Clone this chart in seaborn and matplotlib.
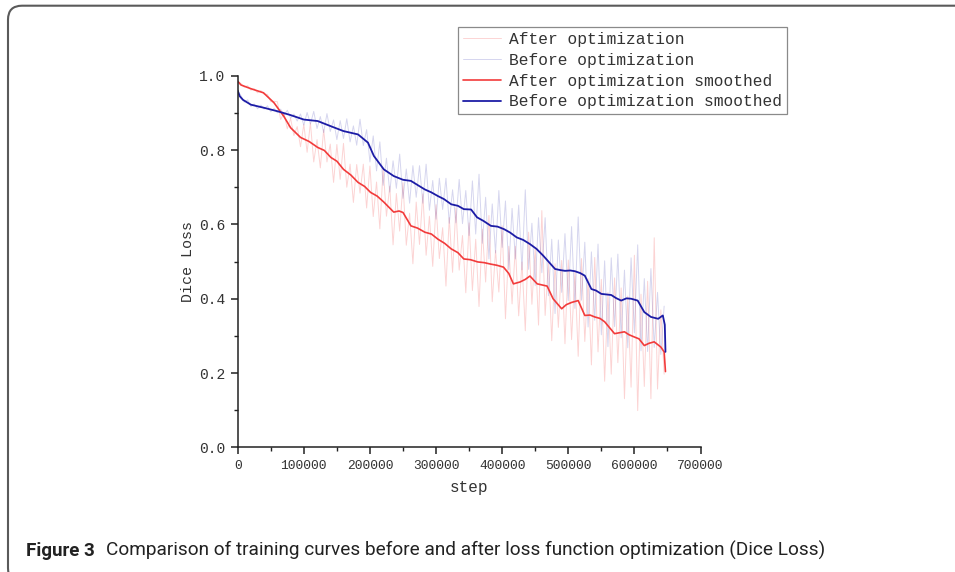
import numpy as np
import pandas as pd
import matplotlib
matplotlib.use("Agg")
import matplotlib.pyplot as plt
import seaborn as sns
from matplotlib.patches import FancyBboxPatch
from matplotlib.transforms import IdentityTransform
from matplotlib.ticker import MultipleLocator, FormatStrFormatter

# ---- training log: Dice loss per logged step ----
LOG_INTERVAL = 5000
raw_steps = np.arange(0, 650000, LOG_INTERVAL)

after_raw = [
    0.985, 0.979, 0.969, 0.973, 0.961, 0.965, 0.954, 0.960, 0.950, 0.950,
    0.930, 0.931, 0.930, 0.882, 0.900, 0.857, 0.885, 0.839, 0.863, 0.809,
    0.869, 0.794, 0.873, 0.768, 0.828, 0.752, 0.855, 0.768, 0.816, 0.713,
    0.815, 0.721, 0.818, 0.700, 0.762, 0.659, 0.761, 0.684, 0.762, 0.644,
    0.757, 0.621, 0.714, 0.588, 0.751, 0.622, 0.703, 0.545, 0.683, 0.582,
    0.712, 0.544, 0.630, 0.494, 0.660, 0.546, 0.682, 0.517, 0.622, 0.487,
    0.653, 0.508, 0.591, 0.434, 0.618, 0.471, 0.644, 0.477, 0.570, 0.416,
    0.604, 0.422, 0.560, 0.379, 0.587, 0.445, 0.624, 0.392, 0.530, 0.418,
    0.596, 0.346, 0.541, 0.386, 0.541, 0.354, 0.499, 0.314, 0.579, 0.385,
    0.536, 0.329, 0.637, 0.355, 0.498, 0.287, 0.494, 0.323, 0.503, 0.279,
    0.504, 0.290, 0.472, 0.245, 0.508, 0.285, 0.454, 0.222, 0.511, 0.257,
    0.452, 0.178, 0.417, 0.197, 0.456, 0.228, 0.429, 0.131, 0.407, 0.162,
    0.517, 0.099, 0.412, 0.164, 0.447, 0.131, 0.564, 0.157, 0.370, 0.197,
]

before_raw = [
    0.960, 0.946, 0.929, 0.935, 0.917, 0.924, 0.911, 0.921, 0.910, 0.919,
    0.903, 0.912, 0.900, 0.910, 0.893, 0.907, 0.886, 0.897, 0.878, 0.897,
    0.867, 0.901, 0.870, 0.904, 0.858, 0.890, 0.847, 0.898, 0.850, 0.881,
    0.828, 0.879, 0.831, 0.884, 0.822, 0.865, 0.813, 0.883, 0.812, 0.855,
    0.768, 0.838, 0.744, 0.822, 0.705, 0.778, 0.687, 0.771, 0.697, 0.789,
    0.670, 0.749, 0.657, 0.758, 0.673, 0.758, 0.657, 0.762, 0.638, 0.718,
    0.614, 0.724, 0.640, 0.724, 0.603, 0.693, 0.604, 0.721, 0.602, 0.691,
    0.570, 0.717, 0.574, 0.735, 0.549, 0.673, 0.507, 0.655, 0.523, 0.691,
    0.538, 0.663, 0.478, 0.643, 0.507, 0.652, 0.478, 0.693, 0.479, 0.603,
    0.435, 0.618, 0.470, 0.618, 0.408, 0.560, 0.360, 0.558, 0.417, 0.575,
    0.395, 0.594, 0.374, 0.620, 0.396, 0.552, 0.324, 0.526, 0.342, 0.547,
    0.303, 0.502, 0.271, 0.510, 0.325, 0.520, 0.295, 0.477, 0.268, 0.510,
    0.308, 0.545, 0.260, 0.454, 0.258, 0.481, 0.269, 0.417, 0.250, 0.380,
]

# smoothed curves
after_smooth_steps = [
    0, 5000, 20000, 39000, 55000, 70000, 80000, 95000, 108000, 121000,
    131000, 141000, 150000, 160000, 171000, 182000, 192000, 201000, 211000, 221000,
    236000, 244000, 250000, 262000, 272000, 283000, 293000, 303000, 313000, 323000,
    333000, 342000, 352000, 363000, 373000, 383000, 392000, 402000, 410000, 417000,
    427000, 435000, 442000, 453000, 468000, 477000, 490000, 497000, 505000, 515000,
    525000, 533000, 540000, 548000, 555000, 562000, 570000, 585000, 592000, 600000,
    607000, 615000, 622000, 630000, 640000, 645000, 647000,
]
after_smooth = [
    0.985, 0.975, 0.965, 0.954, 0.927, 0.890, 0.860, 0.834, 0.823, 0.807,
    0.799, 0.780, 0.770, 0.748, 0.733, 0.713, 0.702, 0.686, 0.676, 0.660,
    0.633, 0.636, 0.632, 0.596, 0.590, 0.579, 0.574, 0.560, 0.549, 0.534,
    0.524, 0.507, 0.505, 0.499, 0.497, 0.493, 0.490, 0.485, 0.468, 0.440,
    0.445, 0.452, 0.461, 0.440, 0.434, 0.400, 0.373, 0.384, 0.390, 0.395,
    0.355, 0.356, 0.351, 0.347, 0.338, 0.323, 0.306, 0.311, 0.303, 0.297,
    0.292, 0.274, 0.280, 0.284, 0.270, 0.257, 0.204,
]

before_smooth_steps = [
    0, 3000, 8000, 20000, 39000, 61000, 80000, 100000, 121000, 141000,
    160000, 182000, 197000, 206000, 221000, 236000, 250000, 262000, 272000, 283000,
    293000, 303000, 312000, 323000, 333000, 342000, 353000, 362000, 372000, 383000,
    393000, 403000, 412000, 422000, 432000, 442000, 452000, 462000, 475000, 480000,
    488000, 495000, 503000, 510000, 518000, 525000, 535000, 542000, 550000, 565000,
    572000, 580000, 588000, 595000, 605000, 615000, 625000, 636000, 643000, 646000,
    647000,
]
before_smooth = [
    0.960, 0.945, 0.935, 0.922, 0.914, 0.904, 0.894, 0.882, 0.878, 0.864,
    0.851, 0.842, 0.820, 0.784, 0.748, 0.730, 0.720, 0.717, 0.706, 0.694,
    0.686, 0.676, 0.668, 0.654, 0.650, 0.641, 0.640, 0.619, 0.609, 0.596,
    0.594, 0.587, 0.578, 0.565, 0.558, 0.547, 0.534, 0.516, 0.490, 0.480,
    0.477, 0.475, 0.476, 0.474, 0.469, 0.462, 0.426, 0.422, 0.413, 0.410,
    0.402, 0.395, 0.401, 0.400, 0.395, 0.364, 0.351, 0.346, 0.355, 0.330,
    0.257,
]

series_labels = [
    "After optimization",
    "Before optimization",
    "After optimization smoothed",
    "Before optimization smoothed",
]
x_ticks = [0, 100000, 200000, 300000, 400000, 500000, 600000, 700000]
y_ticks = [0.0, 0.2, 0.4, 0.6, 0.8, 1.0]
caption_bold = "Figure 3"
caption_text = ("Comparison of training curves before and after loss function "
                "optimization (Dice Loss)")

# ---- style ----
sns.set_style("ticks")
chart_font = ["Liberation Mono", "DejaVu Sans Mono"]
plt.rcParams["font.family"] = chart_font
plt.rcParams["axes.linewidth"] = 1.1

RED = "#f23b3b"
BLUE = "#1c1ca6"

W, H = 955, 572
fig = plt.figure(figsize=(W / 100, H / 100), dpi=100)
x0, x1 = 237.7, 700.5
y0, y1 = 447.4, 75.7
ax = fig.add_axes([x0 / W, 1 - y0 / H, (x1 - x0) / W, (y0 - y1) / H])

raw_df = pd.DataFrame({"step": raw_steps, "after": after_raw, "before": before_raw})
sa_df = pd.DataFrame({"step": after_smooth_steps, "loss": after_smooth})
sb_df = pd.DataFrame({"step": before_smooth_steps, "loss": before_smooth})

sns.lineplot(data=raw_df, x="step", y="after", ax=ax, color=RED, lw=0.7,
             alpha=0.22, estimator=None, sort=False, label=series_labels[0])
sns.lineplot(data=raw_df, x="step", y="before", ax=ax, color=BLUE, lw=0.7,
             alpha=0.18, estimator=None, sort=False, label=series_labels[1])
sns.lineplot(data=sa_df, x="step", y="loss", ax=ax, color=RED, lw=1.2,
             estimator=None, sort=False, label=series_labels[2])
sns.lineplot(data=sb_df, x="step", y="loss", ax=ax, color=BLUE, lw=1.3,
             estimator=None, sort=False, label=series_labels[3])

ax.set_xlim(0, 700000)
ax.set_ylim(0, 1.0)
ax.set_xticks(x_ticks)
ax.set_xticklabels([str(t) for t in x_ticks])
ax.set_yticks(y_ticks)
ax.yaxis.set_major_formatter(FormatStrFormatter("%.1f"))
ax.xaxis.set_minor_locator(MultipleLocator(50000))
ax.yaxis.set_minor_locator(MultipleLocator(0.1))
ax.tick_params(axis="both", which="major", direction="out", length=5, width=1.1,
               colors="#222222", pad=4)
ax.tick_params(axis="x", which="major", labelsize=9.4)
ax.tick_params(axis="y", which="major", labelsize=10.5)
ax.tick_params(axis="both", which="minor", direction="out", length=3, width=1.0,
               colors="#222222")
for lab in ax.get_xticklabels() + ax.get_yticklabels():
    lab.set_color("#333333")
sns.despine(ax=ax)
for s in ("left", "bottom"):
    ax.spines[s].set_color("#222222")

ax.set_xlabel("step", fontsize=11.5, color="#333333", labelpad=6)
ax.set_ylabel("Dice Loss", fontsize=10.8, color="#333333", labelpad=3)

handles, labels = ax.get_legend_handles_labels()
leg = ax.legend(handles, labels, loc="upper right",
                bbox_to_anchor=(787 / W, 1 - 27 / H), bbox_transform=fig.transFigure,
                fontsize=11.7, frameon=True, fancybox=False, framealpha=1,
                edgecolor="#8a8a8a", handlelength=2.35, handletextpad=0.5,
                labelspacing=0.36, borderpad=0.3, borderaxespad=0)
leg.get_frame().set_linewidth(0.9)
for t in leg.get_texts():
    t.set_color("#333333")

# ---- outer rounded frame ----
frame = FancyBboxPatch((8, -10), 1100, H - 5.7 + 10,
                       boxstyle="round,pad=0,rounding_size=14",
                       transform=IdentityTransform(), facecolor="none",
                       edgecolor="#5a5a5a", lw=1.5)
fig.add_artist(frame)

# ---- caption ----
cap_font = ["Liberation Sans Narrow", "Roboto", "DejaVu Sans"]
base_y = 1 - 556 / H
t1 = fig.text(26 / W, base_y, caption_bold, fontsize=12.5, fontweight="bold",
              family=cap_font, color="#222222", va="baseline", ha="left")
t2 = fig.text(106 / W, base_y, caption_text, fontsize=12.5,
              family=cap_font, color="#222222", va="baseline", ha="left")
fig.canvas.draw()
r = fig.canvas.get_renderer()
for t, target in ((t1, 95 - 26), (t2, 824 - 106)):
    w = t.get_window_extent(r).width
    t.set_fontsize(t.get_fontsize() * target / w)

fig.savefig("out.png", dpi=100)
